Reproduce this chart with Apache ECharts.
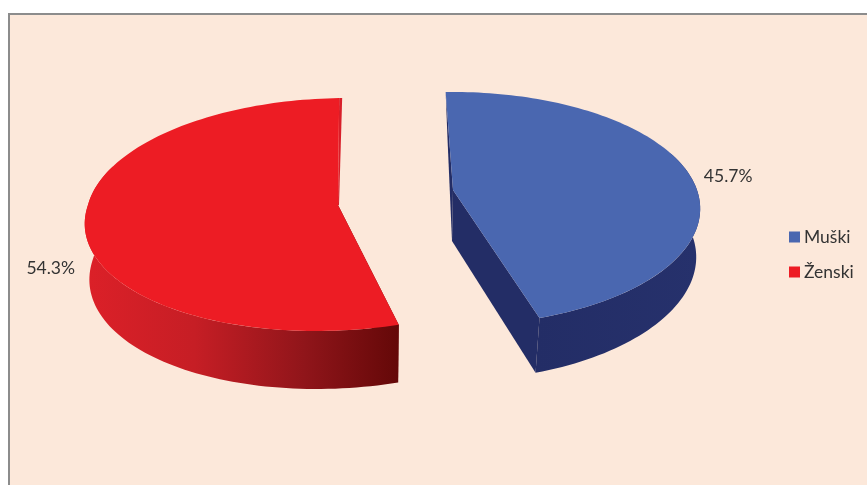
<!DOCTYPE html>
<html>
<head>
<meta charset="utf-8">
<style>html,body{margin:0;padding:0;background:#fff}#c{width:867px;height:485px}</style>
<script src="https://cdn.jsdelivr.net/npm/echarts@6/dist/echarts.min.js"></script>
</head>
<body>
<div id="c"></div>
<script>
// Data
const categories = ['Muški', 'Ženski'];
const shares = [45.7, 54.3];
const colors = ['#4a67b0', '#ed1c24'];

// Drawing geometry of each exploded slice (perspective ellipse)
const geometry = [
  {cx:453, cy:190, rx:244, ry:113.7, k:0.16, shearFar:0, shearNear:0, d0:51, d1:4, s0:0.992, s1:-0.027, bx:-1,
   labelDx:41, labelDy:5, capWall:'#232d66', cutWall:'#232d66',
   rim:[[0,'#232d66'],[1,'#26316c']]},
  {cx:338, cy:205, rx:250, ry:115.7, k:0.0816, shearFar:10, shearNear:20, d0:54, d1:4, s0:0.98, s1:0.01, bx:0,
   labelDx:-34, labelDy:44, capWall:'#d81f2a', cutWall:'#6b0a0a',
   rim:[[0,'#dc2028'],[0.35,'#c61e25'],[0.7,'#90151a'],[1,'#640808']]}
];
const startAngle = -2;
const rimFrom = 70, rimTo = 290;   // only the front of the rim wall is visible
const total = shares.reduce((a,b)=>a+b,0);

function project(g, deg, level){
  const a = deg*Math.PI/180, u = Math.sin(a), v = -Math.cos(a);
  const w = 1 - g.k*v;
  const shear = v < 0 ? g.shearFar : g.shearNear;
  const x = (g.rx*u - shear*v)/w, y = g.ry*v/w;
  if(!level) return [g.cx+x, g.cy+y];
  return [g.cx+g.bx+x*(g.s0+g.s1*v), g.cy+y+g.d0+g.d1*v];
}
function apex(g, level){
  return level ? [g.cx+g.bx, g.cy+g.d0] : [g.cx, g.cy];
}
function arc(g, a0, a1, level){
  const pts=[], n=Math.ceil(Math.abs(a1-a0)/1.5);
  for(let i=0;i<=n;i++) pts.push(project(g, a0+(a1-a0)*i/n, level));
  return pts;
}

function makeSeries(idx){
  let before = 0;
  for(let i=0;i<idx;i++) before += shares[i];
  return {
    type:'custom',
    name:categories[idx],
    coordinateSystem:'none',
    itemStyle:{color:colors[idx]},
    data:[[shares[idx]]],
    renderItem(params, api){
      const val = api.value(0), g = geometry[idx];
      const a0 = startAngle + before/total*360;
      const a1 = a0 + val/total*360;
      const top = arc(g,a0,a1,0), bot = arc(g,a0,a1,1);
      const r0 = Math.max(a0,rimFrom), r1 = Math.min(a1,rimTo);
      const rimPts = arc(g,r0,r1,0).concat(arc(g,r0,r1,1).reverse());
      const A = apex(g,0), B = apex(g,1);
      const first = top[0], last = top[top.length-1];
      const firstB = bot[0], lastB = bot[bot.length-1];
      // far-side cut wall: the narrow strip that peeks out beside the top face
      const farPts = idx===0
        ? [A, first, [firstB[0]+3,firstB[1]], B]
        : [A, last, [last[0]+3,last[1]], [A[0]+1,A[1]]];
      const nearPts = idx===0
        ? [A, last, lastB, B]
        : [A, first, firstB, B];
      const mid = project(g,(a0+a1)/2,0);
      return {type:'group',children:[
        {type:'polygon',shape:{points:farPts},style:{fill:g.capWall}},
        {type:'polygon',shape:{points:nearPts},style:{fill:g.cutWall}},
        {type:'polygon',shape:{points:rimPts},
         style:{fill:new echarts.graphic.LinearGradient(0,0,1,0,
           g.rim.map(r=>({offset:r[0],color:r[1]})))}},
        {type:'polygon',shape:{points:[A].concat(top)},style:{fill:colors[idx]}},
        {type:'text',style:{x:mid[0]+g.labelDx,y:mid[1]+g.labelDy,text:val.toFixed(1)+'%',
          fill:'#333',font:'17.5px Lato',align:'center',verticalAlign:'middle'}}
      ]};
    }
  };
}

const chart = echarts.init(document.getElementById('c'),null,{renderer:'canvas'});
chart.setOption({
  animation:false,
  backgroundColor:'#ffffff',
  graphic:[{type:'rect',silent:true,z:0,
    shape:{x:9,y:14,width:880,height:490},
    style:{fill:'#fce8da',stroke:'#8c8c8c',lineWidth:2}}],
  legend:{
    orient:'vertical',left:784,top:223,
    icon:'rect',itemWidth:11,itemHeight:11,itemGap:17,
    selectedMode:false,
    textStyle:{color:'#333',fontSize:17.5,fontFamily:'Lato',padding:[0,0,0,-1]},
    data:categories
  },
  series:categories.map((_,i)=>makeSeries(i))
});
</script>
</body>
</html>
